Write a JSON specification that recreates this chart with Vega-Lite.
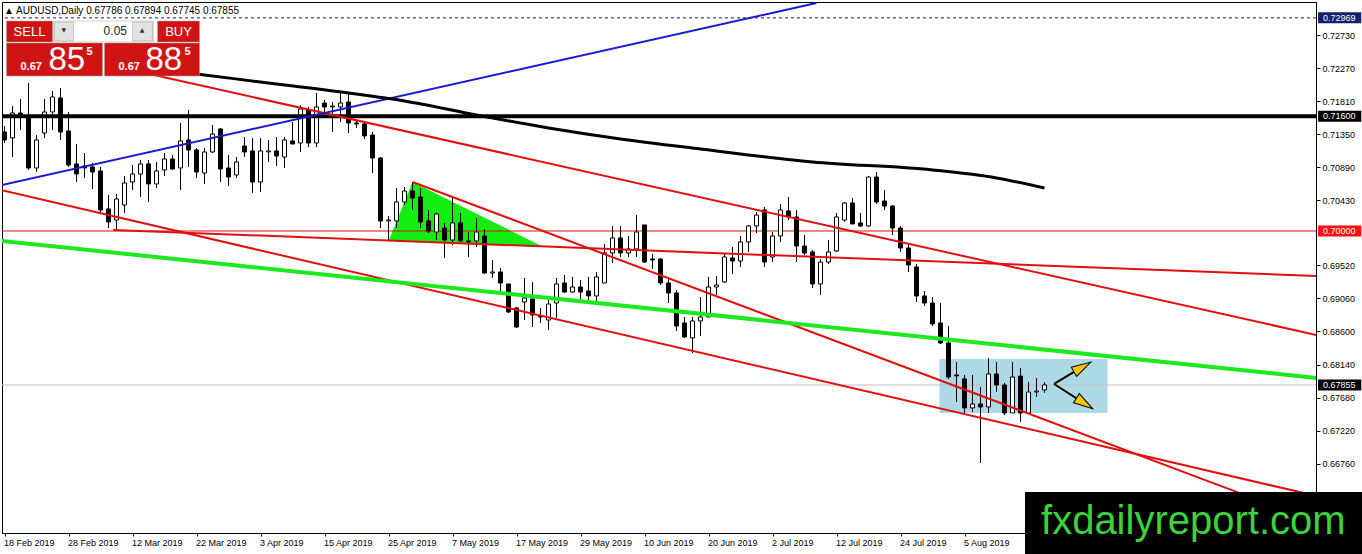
{
  "$schema": "https://vega.github.io/schema/vega-lite/v6.json",
  "width": 1314,
  "height": 531,
  "autosize": {"type": "none"},
  "padding": {"left": 2, "top": 2, "right": 46, "bottom": 21},
  "background": "#ffffff",
  "title": {
    "text": "▲ AUDUSD,Daily  0.67786 0.67894 0.67745 0.67855",
    "anchor": "start",
    "offset": -14,
    "dx": 4,
    "font": "Liberation Sans",
    "fontSize": 10,
    "fontWeight": "normal",
    "color": "#000000"
  },
  "config": {
    "view": {"stroke": "#000000", "strokeWidth": 1},
    "axis": {
      "grid": false,
      "labelFont": "Liberation Sans",
      "labelFontSize": 9,
      "labelColor": "#000000",
      "tickColor": "#000000",
      "domainColor": "#000000",
      "labelFlush": false,
      "labelOverlap": false
    }
  },
  "datasets": {
    "candles": [
      {"t":0,"o":0.71379,"h":0.71463,"l":0.71226,"c":0.71268},
      {"t":1,"o":0.71296,"h":0.71741,"l":0.71031,"c":0.71644},
      {"t":2,"o":0.71644,"h":0.71839,"l":0.71407,"c":0.71616},
      {"t":3,"o":0.71588,"h":0.72062,"l":0.70850,"c":0.70878},
      {"t":4,"o":0.70878,"h":0.71337,"l":0.70822,"c":0.71268},
      {"t":5,"o":0.71365,"h":0.71839,"l":0.71296,"c":0.71658},
      {"t":6,"o":0.71658,"h":0.71950,"l":0.71407,"c":0.71867},
      {"t":7,"o":0.71853,"h":0.71992,"l":0.71268,"c":0.71379},
      {"t":8,"o":0.71393,"h":0.71658,"l":0.70892,"c":0.70920},
      {"t":9,"o":0.70934,"h":0.71212,"l":0.70683,"c":0.70794},
      {"t":10,"o":0.70906,"h":0.71087,"l":0.70739,"c":0.70878},
      {"t":11,"o":0.70892,"h":0.70947,"l":0.70585,"c":0.70822},
      {"t":12,"o":0.70836,"h":0.70892,"l":0.70251,"c":0.70293},
      {"t":13,"o":0.70307,"h":0.70502,"l":0.70042,"c":0.70126},
      {"t":14,"o":0.70153,"h":0.70516,"l":0.70014,"c":0.70446},
      {"t":15,"o":0.70362,"h":0.70766,"l":0.70251,"c":0.70669},
      {"t":16,"o":0.70683,"h":0.70920,"l":0.70571,"c":0.70794},
      {"t":17,"o":0.70794,"h":0.70989,"l":0.70474,"c":0.70934},
      {"t":18,"o":0.70934,"h":0.70989,"l":0.70404,"c":0.70655},
      {"t":19,"o":0.70655,"h":0.70961,"l":0.70599,"c":0.70836},
      {"t":20,"o":0.70850,"h":0.71087,"l":0.70766,"c":0.71003},
      {"t":21,"o":0.71003,"h":0.71059,"l":0.70850,"c":0.70864},
      {"t":22,"o":0.70878,"h":0.71505,"l":0.70571,"c":0.71254},
      {"t":23,"o":0.71268,"h":0.71686,"l":0.70892,"c":0.71129},
      {"t":24,"o":0.71129,"h":0.71156,"l":0.70739,"c":0.70822},
      {"t":25,"o":0.70808,"h":0.71156,"l":0.70655,"c":0.71101},
      {"t":26,"o":0.71101,"h":0.71477,"l":0.71087,"c":0.71351},
      {"t":27,"o":0.71421,"h":0.71435,"l":0.70683,"c":0.70864},
      {"t":28,"o":0.70878,"h":0.71059,"l":0.70627,"c":0.70752},
      {"t":29,"o":0.70780,"h":0.71031,"l":0.70739,"c":0.70961},
      {"t":30,"o":0.71184,"h":0.71310,"l":0.71031,"c":0.71101},
      {"t":31,"o":0.71115,"h":0.71296,"l":0.70530,"c":0.70683},
      {"t":32,"o":0.70683,"h":0.71296,"l":0.70543,"c":0.71115},
      {"t":33,"o":0.71101,"h":0.71268,"l":0.70961,"c":0.71115},
      {"t":34,"o":0.71115,"h":0.71310,"l":0.70906,"c":0.71045},
      {"t":35,"o":0.71031,"h":0.71310,"l":0.70878,"c":0.71268},
      {"t":36,"o":0.71254,"h":0.71519,"l":0.71212,"c":0.71212},
      {"t":37,"o":0.71226,"h":0.71755,"l":0.71101,"c":0.71700},
      {"t":38,"o":0.71686,"h":0.71728,"l":0.71170,"c":0.71226},
      {"t":39,"o":0.71226,"h":0.71923,"l":0.71170,"c":0.71728},
      {"t":40,"o":0.71783,"h":0.71825,"l":0.71644,"c":0.71728},
      {"t":41,"o":0.71728,"h":0.71797,"l":0.71379,"c":0.71741},
      {"t":42,"o":0.71728,"h":0.71923,"l":0.71519,"c":0.71783},
      {"t":43,"o":0.71797,"h":0.71936,"l":0.71365,"c":0.71505},
      {"t":44,"o":0.71505,"h":0.71533,"l":0.71435,"c":0.71491},
      {"t":45,"o":0.71491,"h":0.71519,"l":0.71282,"c":0.71324},
      {"t":46,"o":0.71337,"h":0.71379,"l":0.70808,"c":0.71017},
      {"t":47,"o":0.71017,"h":0.71031,"l":0.70042,"c":0.70140},
      {"t":48,"o":0.70140,"h":0.70209,"l":0.69875,"c":0.70153},
      {"t":49,"o":0.70140,"h":0.70599,"l":0.70042,"c":0.70404},
      {"t":50,"o":0.70404,"h":0.70613,"l":0.70362,"c":0.70557},
      {"t":51,"o":0.70557,"h":0.70683,"l":0.70293,"c":0.70460},
      {"t":52,"o":0.70474,"h":0.70599,"l":0.70042,"c":0.70126},
      {"t":53,"o":0.70140,"h":0.70293,"l":0.69972,"c":0.70000},
      {"t":54,"o":0.69986,"h":0.70251,"l":0.69875,"c":0.70237},
      {"t":55,"o":0.70042,"h":0.70112,"l":0.69624,"c":0.69875},
      {"t":56,"o":0.69875,"h":0.70460,"l":0.69805,"c":0.70112},
      {"t":57,"o":0.70112,"h":0.70251,"l":0.69847,"c":0.69861},
      {"t":58,"o":0.69861,"h":0.69986,"l":0.69638,"c":0.69847},
      {"t":59,"o":0.69861,"h":0.70181,"l":0.69777,"c":0.69986},
      {"t":60,"o":0.69931,"h":0.70028,"l":0.69401,"c":0.69415},
      {"t":61,"o":0.69415,"h":0.69596,"l":0.69346,"c":0.69429},
      {"t":62,"o":0.69429,"h":0.69485,"l":0.69150,"c":0.69276},
      {"t":63,"o":0.69262,"h":0.69262,"l":0.68858,"c":0.68872},
      {"t":64,"o":0.68928,"h":0.68942,"l":0.68649,"c":0.68663},
      {"t":65,"o":0.69011,"h":0.69346,"l":0.68760,"c":0.69067},
      {"t":66,"o":0.69053,"h":0.69290,"l":0.68663,"c":0.68830},
      {"t":67,"o":0.68816,"h":0.68928,"l":0.68719,"c":0.68802},
      {"t":68,"o":0.68760,"h":0.69039,"l":0.68621,"c":0.68983},
      {"t":69,"o":0.68997,"h":0.69346,"l":0.68788,"c":0.69262},
      {"t":70,"o":0.69276,"h":0.69387,"l":0.69137,"c":0.69150},
      {"t":71,"o":0.69150,"h":0.69359,"l":0.69137,"c":0.69220},
      {"t":72,"o":0.69220,"h":0.69318,"l":0.69039,"c":0.69150},
      {"t":73,"o":0.69164,"h":0.69359,"l":0.69011,"c":0.69095},
      {"t":74,"o":0.69095,"h":0.69429,"l":0.69011,"c":0.69359},
      {"t":75,"o":0.69276,"h":0.69819,"l":0.69276,"c":0.69694},
      {"t":76,"o":0.69694,"h":0.70070,"l":0.69554,"c":0.69903},
      {"t":77,"o":0.69903,"h":0.70070,"l":0.69638,"c":0.69694},
      {"t":78,"o":0.69694,"h":0.69931,"l":0.69638,"c":0.69749},
      {"t":79,"o":0.69749,"h":0.70223,"l":0.69638,"c":0.69986},
      {"t":80,"o":0.70084,"h":0.70084,"l":0.69554,"c":0.69568},
      {"t":81,"o":0.69610,"h":0.69680,"l":0.69471,"c":0.69596},
      {"t":82,"o":0.69610,"h":0.69624,"l":0.69248,"c":0.69276},
      {"t":83,"o":0.69276,"h":0.69359,"l":0.68997,"c":0.69137},
      {"t":84,"o":0.69137,"h":0.69178,"l":0.68607,"c":0.68677},
      {"t":85,"o":0.68719,"h":0.68802,"l":0.68510,"c":0.68524},
      {"t":86,"o":0.68510,"h":0.68802,"l":0.68301,"c":0.68747},
      {"t":87,"o":0.68747,"h":0.69081,"l":0.68538,"c":0.68802},
      {"t":88,"o":0.68802,"h":0.69359,"l":0.68802,"c":0.69220},
      {"t":89,"o":0.69220,"h":0.69373,"l":0.69109,"c":0.69248},
      {"t":90,"o":0.69290,"h":0.69680,"l":0.69276,"c":0.69638},
      {"t":91,"o":0.69624,"h":0.69777,"l":0.69401,"c":0.69582},
      {"t":92,"o":0.69582,"h":0.69931,"l":0.69499,"c":0.69847},
      {"t":93,"o":0.69847,"h":0.70084,"l":0.69708,"c":0.70070},
      {"t":94,"o":0.70070,"h":0.70265,"l":0.69972,"c":0.70223},
      {"t":95,"o":0.70293,"h":0.70335,"l":0.69499,"c":0.69568},
      {"t":96,"o":0.69638,"h":0.69986,"l":0.69568,"c":0.69931},
      {"t":97,"o":0.69931,"h":0.70376,"l":0.69847,"c":0.70293},
      {"t":98,"o":0.70279,"h":0.70474,"l":0.70153,"c":0.70195},
      {"t":99,"o":0.70195,"h":0.70293,"l":0.69568,"c":0.69791},
      {"t":100,"o":0.69791,"h":0.69944,"l":0.69666,"c":0.69694},
      {"t":101,"o":0.69708,"h":0.69736,"l":0.69206,"c":0.69262},
      {"t":102,"o":0.69262,"h":0.69610,"l":0.69109,"c":0.69568},
      {"t":103,"o":0.69568,"h":0.69875,"l":0.69541,"c":0.69708},
      {"t":104,"o":0.69722,"h":0.70251,"l":0.69708,"c":0.70195},
      {"t":105,"o":0.70153,"h":0.70404,"l":0.70126,"c":0.70390},
      {"t":106,"o":0.70390,"h":0.70460,"l":0.70098,"c":0.70098},
      {"t":107,"o":0.70112,"h":0.70251,"l":0.70056,"c":0.70070},
      {"t":108,"o":0.70070,"h":0.70766,"l":0.70056,"c":0.70752},
      {"t":109,"o":0.70752,"h":0.70822,"l":0.70376,"c":0.70404},
      {"t":110,"o":0.70418,"h":0.70571,"l":0.70293,"c":0.70348},
      {"t":111,"o":0.70348,"h":0.70362,"l":0.69944,"c":0.70042},
      {"t":112,"o":0.70042,"h":0.70070,"l":0.69708,"c":0.69763},
      {"t":113,"o":0.69763,"h":0.69833,"l":0.69429,"c":0.69527},
      {"t":114,"o":0.69499,"h":0.69541,"l":0.69011,"c":0.69095},
      {"t":115,"o":0.69095,"h":0.69164,"l":0.68955,"c":0.68997},
      {"t":116,"o":0.68997,"h":0.69081,"l":0.68677,"c":0.68705},
      {"t":117,"o":0.68719,"h":0.68997,"l":0.68426,"c":0.68440},
      {"t":118,"o":0.68440,"h":0.68677,"l":0.67939,"c":0.67966},
      {"t":119,"o":0.67994,"h":0.68175,"l":0.67618,"c":0.67980},
      {"t":120,"o":0.67939,"h":0.67994,"l":0.67465,"c":0.67535},
      {"t":121,"o":0.67535,"h":0.67994,"l":0.67479,"c":0.67590},
      {"t":122,"o":0.67590,"h":0.67827,"l":0.66768,"c":0.67549},
      {"t":123,"o":0.67549,"h":0.68231,"l":0.67465,"c":0.68008},
      {"t":124,"o":0.68008,"h":0.68175,"l":0.67757,"c":0.67855},
      {"t":125,"o":0.67855,"h":0.67883,"l":0.67437,"c":0.67465},
      {"t":126,"o":0.67465,"h":0.68175,"l":0.67465,"c":0.67966},
      {"t":127,"o":0.67980,"h":0.68092,"l":0.67340,"c":0.67465},
      {"t":128,"o":0.67465,"h":0.67897,"l":0.67451,"c":0.67757},
      {"t":129,"o":0.67757,"h":0.67953,"l":0.67688,"c":0.67770},
      {"t":130,"o":0.67786,"h":0.67894,"l":0.67745,"c":0.67855}
    ],
    "lines": [
      {"id":"blue","t":-1.25,"p":0.70616},{"id":"blue","t":101.5,"p":0.73176},
      {"id":"red1","t":17,"p":0.72215},{"id":"red1","t":164,"p":0.68551},
      {"id":"red2","t":51,"p":0.70683},{"id":"red2","t":164,"p":0.65947},
      {"id":"red3","t":-1.25,"p":0.70591},{"id":"red3","t":164,"p":0.66309},
      {"id":"red4","t":13.6,"p":0.70014},{"id":"red4","t":164,"p":0.69373},
      {"id":"green","t":-1.25,"p":0.69872},{"id":"green","t":164,"p":0.67953}
    ],
    "ma": [
      {"t":24,"p":0.72187},{"t":32,"p":0.72076},{"t":43,"p":0.71923},
      {"t":50,"p":0.71811},{"t":59,"p":0.71616},{"t":68,"p":0.71435},
      {"t":77,"p":0.71282},{"t":87,"p":0.71142},{"t":101,"p":0.70961},
      {"t":116,"p":0.70850},{"t":124,"p":0.70739},{"t":130,"p":0.70599}
    ],
    "triangle": [
      {"t":48,"p":0.69861,"p2":0.69861},
      {"t":51,"p":0.70683,"p2":0.69848},
      {"t":67.375,"p":0.69777,"p2":0.69777}
    ],
    "box": [{"t":116.875,"t2":137.875,"p":0.68217,"p2":0.67465}],
    "arrows": [
      {"dir":"up","t":131.2,"p":0.67869,"t2":134.73,"p2":0.68106},
      {"dir":"down","t":131.2,"p":0.67869,"t2":135.01,"p2":0.67597}
    ],
    "levels": [
      {"k":"dash","p":0.72969},
      {"k":"level","p":0.716},
      {"k":"red","p":0.70000},
      {"k":"bid","p":0.67855}
    ],
    "panel": [
      {"k":"red","t":0.25,"t2":6.0,"p":0.72925,"p2":0.72633},
      {"k":"red","t":0.25,"t2":12.25,"p":0.72619,"p2":0.72159},
      {"k":"red","t":19.125,"t2":24.375,"p":0.72925,"p2":0.72633},
      {"k":"red","t":12.5,"t2":24.375,"p":0.72619,"p2":0.72159},
      {"k":"field","t":6.125,"t2":18.625,"p":0.72925,"p2":0.72633},
      {"k":"btn","t":6.25,"t2":8.625,"p":0.72911,"p2":0.72647},
      {"k":"btn","t":16.0,"t2":18.5,"p":0.72911,"p2":0.72647}
    ],
    "panelText": [
      {"s":"SELL","k":"btn","t":3.125,"p":0.72717},
      {"s":"BUY","k":"btn","t":21.75,"p":0.72717},
      {"s":"0.05","k":"lot","t":15.31,"p":0.72730},
      {"s":"▼","k":"arr","t":7.4,"p":0.72800},
      {"s":"▲","k":"arr","t":17.2,"p":0.72800},
      {"s":"0.67","k":"sm","t":2.0,"p":0.72243},
      {"s":"85","k":"big","t":5.5,"p":0.72243},
      {"s":"5","k":"sup","t":10.25,"p":0.72452},
      {"s":"0.67","k":"sm","t":14.25,"p":0.72243},
      {"s":"88","k":"big","t":17.625,"p":0.72243},
      {"s":"5","k":"sup","t":22.5,"p":0.72452}
    ]
  },
  "layer": [
    {
      "data": {"name": "box"},
      "mark": {"type": "rect", "fill": "#add8e6"},
      "encoding": {
        "x": {"field": "t", "type": "quantitative", "axis": {"title": null}, "scale": {"domain": [-0.3125, 163.9375], "nice": false, "zero": false, "padding": 0}},
        "x2": {"field": "t2"},
        "y": {"field": "p", "type": "quantitative", "axis": {"orient": "right", "title": null}, "scale": {"domain": [0.65793, 0.7319], "nice": false, "zero": false, "padding": 0}},
        "y2": {"field": "p2"}
      }
    },
    {
      "data": {"name": "triangle"},
      "mark": {"type": "area", "color": "#12ee12", "opacity": 1},
      "encoding": {
        "x": {"field": "t", "type": "quantitative", "axis": {"title": null}},
        "y": {"field": "p", "type": "quantitative", "axis": {"orient": "right", "title": null}},
        "y2": {"field": "p2"}
      }
    },
    {
      "data": {"name": "levels"},
      "transform": [{"filter": "datum.k == 'dash'"}],
      "mark": {"type": "rule", "color": "#1a1a66", "strokeWidth": 1, "strokeDash": [3, 3]},
      "encoding": {"y": {"field": "p", "type": "quantitative", "axis": {"orient": "right", "title": null}}}
    },
    {
      "data": {"name": "levels"},
      "transform": [{"filter": "datum.k == 'red'"}],
      "mark": {"type": "rule", "color": "#e01010", "strokeWidth": 1},
      "encoding": {"y": {"field": "p", "type": "quantitative", "axis": {"orient": "right", "title": null}}}
    },
    {
      "data": {"name": "levels"},
      "transform": [{"filter": "datum.k == 'bid'"}],
      "mark": {"type": "rule", "color": "#c0c0c0", "strokeWidth": 1},
      "encoding": {"y": {"field": "p", "type": "quantitative", "axis": {"orient": "right", "title": null}}}
    },
    {
      "data": {"name": "candles"},
      "mark": {"type": "rule", "color": "#000000", "strokeWidth": 1},
      "encoding": {
        "x": {
          "field": "t", "type": "quantitative",
          "axis": {
            "title": null,
            "values": [0, 8, 16, 24, 32, 40, 48, 56, 64, 72, 80, 88, 96, 104, 112, 120],
            "labelExpr": "['18 Feb 2019','28 Feb 2019','12 Mar 2019','22 Mar 2019','3 Apr 2019','15 Apr 2019','25 Apr 2019','7 May 2019','17 May 2019','29 May 2019','10 Jun 2019','20 Jun 2019','2 Jul 2019','12 Jul 2019','24 Jul 2019','5 Aug 2019'][datum.value / 8]",
            "labelAlign": "left",
            "labelOffset": -1,
            "labelBaseline": "top",
            "tickSize": 3,
            "labelPadding": 2
          }
        },
        "y": {
          "field": "l", "type": "quantitative",
          "axis": {
            "orient": "right",
            "title": null,
            "values": [0.7273, 0.7227, 0.7181, 0.7135, 0.7089, 0.7043, 0.6952, 0.6906, 0.686, 0.6814, 0.6768, 0.6722, 0.6676],
            "format": ".5f",
            "tickSize": 4,
            "labelPadding": 2
          }
        },
        "y2": {"field": "h"}
      }
    },
    {
      "data": {"name": "candles"},
      "mark": {"type": "bar", "size": 4, "stroke": "#000000", "strokeWidth": 1},
      "encoding": {
        "x": {"field": "t", "type": "quantitative", "axis": {"title": null}},
        "y": {"field": "o", "type": "quantitative", "axis": {"orient": "right", "title": null}},
        "y2": {"field": "c"},
        "fill": {"condition": {"test": "datum.c >= datum.o", "value": "#ffffff"}, "value": "#000000"}
      }
    },
    {
      "data": {"name": "levels"},
      "transform": [{"filter": "datum.k == 'level'"}],
      "mark": {"type": "rule", "color": "#000000", "strokeWidth": 4},
      "encoding": {"y": {"field": "p", "type": "quantitative", "axis": {"orient": "right", "title": null}}}
    },
    {
      "data": {"name": "lines"},
      "transform": [{"filter": "indexof(datum.id, 'red') == 0"}],
      "mark": {"type": "line", "color": "#e01010", "strokeWidth": 2, "clip": true},
      "encoding": {
        "x": {"field": "t", "type": "quantitative", "axis": {"title": null}},
        "y": {"field": "p", "type": "quantitative", "axis": {"orient": "right", "title": null}},
        "detail": {"field": "id"}
      }
    },
    {
      "data": {"name": "lines"},
      "transform": [{"filter": "datum.id == 'blue'"}],
      "mark": {"type": "line", "color": "#1a1acc", "strokeWidth": 2, "clip": true},
      "encoding": {
        "x": {"field": "t", "type": "quantitative", "axis": {"title": null}},
        "y": {"field": "p", "type": "quantitative", "axis": {"orient": "right", "title": null}}
      }
    },
    {
      "data": {"name": "lines"},
      "transform": [{"filter": "datum.id == 'green'"}],
      "mark": {"type": "line", "color": "#1ee81e", "strokeWidth": 4, "clip": true},
      "encoding": {
        "x": {"field": "t", "type": "quantitative", "axis": {"title": null}},
        "y": {"field": "p", "type": "quantitative", "axis": {"orient": "right", "title": null}}
      }
    },
    {
      "data": {"name": "ma"},
      "mark": {"type": "line", "color": "#000000", "strokeWidth": 3, "interpolate": "monotone"},
      "encoding": {
        "x": {"field": "t", "type": "quantitative", "axis": {"title": null}},
        "y": {"field": "p", "type": "quantitative", "axis": {"orient": "right", "title": null}}
      }
    },
    {
      "data": {"name": "arrows"},
      "mark": {"type": "rule", "color": "#000000", "strokeWidth": 2},
      "encoding": {
        "x": {"field": "t", "type": "quantitative", "axis": {"title": null}},
        "y": {"field": "p", "type": "quantitative", "axis": {"orient": "right", "title": null}},
        "x2": {"field": "t2"},
        "y2": {"field": "p2"}
      }
    },
    {
      "data": {"name": "arrows"},
      "transform": [{"filter": "datum.dir == 'up'"}],
      "mark": {"type": "point", "shape": "M-1,-0.55L1,0L-1,0.55Z", "angle": -30, "size": 380, "filled": true, "fill": "#f5c400", "stroke": "#000000", "strokeWidth": 1, "opacity": 1},
      "encoding": {
        "x": {"field": "t2", "type": "quantitative", "axis": {"title": null}},
        "y": {"field": "p2", "type": "quantitative", "axis": {"orient": "right", "title": null}}
      }
    },
    {
      "data": {"name": "arrows"},
      "transform": [{"filter": "datum.dir == 'down'"}],
      "mark": {"type": "point", "shape": "M-1,-0.55L1,0L-1,0.55Z", "angle": 33, "size": 380, "filled": true, "fill": "#f5c400", "stroke": "#000000", "strokeWidth": 1, "opacity": 1},
      "encoding": {
        "x": {"field": "t2", "type": "quantitative", "axis": {"title": null}},
        "y": {"field": "p2", "type": "quantitative", "axis": {"orient": "right", "title": null}}
      }
    },
    {
      "data": {"name": "levels"},
      "mark": {"type": "bar", "size": 11, "orient": "horizontal"},
      "encoding": {
        "x": {"datum": 164.2, "type": "quantitative", "axis": {"title": null}},
        "x2": {"datum": 169.6},
        "y": {"field": "p", "type": "quantitative", "axis": {"orient": "right", "title": null}},
        "color": {"field": "k", "type": "nominal", "legend": null, "scale": {"domain": ["dash", "level", "red", "bid"], "range": ["#14206e", "#000000", "#ff1010", "#000000"]}}
      }
    },
    {
      "data": {"name": "levels"},
      "mark": {"type": "text", "color": "#ffffff", "font": "Liberation Sans", "fontSize": 9, "align": "center", "baseline": "middle"},
      "encoding": {
        "x": {"datum": 166.85, "type": "quantitative", "axis": {"title": null}},
        "y": {"field": "p", "type": "quantitative", "axis": {"orient": "right", "title": null}},
        "text": {"field": "p", "type": "quantitative", "format": ".5f"}
      }
    },
    {
      "data": {"name": "panel"},
      "mark": {"type": "rect", "stroke": "#a0a0a0", "strokeWidth": 0.5},
      "encoding": {
        "x": {"field": "t", "type": "quantitative", "axis": {"title": null}},
        "x2": {"field": "t2"},
        "y": {"field": "p", "type": "quantitative", "axis": {"orient": "right", "title": null}},
        "y2": {"field": "p2"},
        "fill": {"field": "k", "type": "nominal", "legend": null, "scale": {"domain": ["red", "field", "btn"], "range": ["#d01414", "#ffffff", "#e2e2e2"]}}
      }
    },
    {
      "data": {"name": "panelText"},
      "transform": [{"filter": "datum.k == 'btn'"}],
      "mark": {"type": "text", "color": "#ffffff", "font": "Liberation Sans", "fontSize": 13, "align": "center", "baseline": "alphabetic"},
      "encoding": {
        "x": {"field": "t", "type": "quantitative", "axis": {"title": null}},
        "y": {"field": "p", "type": "quantitative", "axis": {"orient": "right", "title": null}},
        "text": {"field": "s"}
      }
    },
    {
      "data": {"name": "panelText"},
      "transform": [{"filter": "datum.k == 'lot'"}],
      "mark": {"type": "text", "color": "#222222", "font": "Liberation Sans", "fontSize": 12, "align": "right", "baseline": "alphabetic"},
      "encoding": {
        "x": {"field": "t", "type": "quantitative", "axis": {"title": null}},
        "y": {"field": "p", "type": "quantitative", "axis": {"orient": "right", "title": null}},
        "text": {"field": "s"}
      }
    },
    {
      "data": {"name": "panelText"},
      "transform": [{"filter": "datum.k == 'arr'"}],
      "mark": {"type": "text", "color": "#333333", "font": "DejaVu Sans", "fontSize": 6, "align": "center", "baseline": "middle"},
      "encoding": {
        "x": {"field": "t", "type": "quantitative", "axis": {"title": null}},
        "y": {"field": "p", "type": "quantitative", "axis": {"orient": "right", "title": null}},
        "text": {"field": "s"}
      }
    },
    {
      "data": {"name": "panelText"},
      "transform": [{"filter": "datum.k == 'sm'"}],
      "mark": {"type": "text", "color": "#ffffff", "font": "Liberation Sans", "fontSize": 11, "fontWeight": "bold", "align": "left", "baseline": "alphabetic"},
      "encoding": {
        "x": {"field": "t", "type": "quantitative", "axis": {"title": null}},
        "y": {"field": "p", "type": "quantitative", "axis": {"orient": "right", "title": null}},
        "text": {"field": "s"}
      }
    },
    {
      "data": {"name": "panelText"},
      "transform": [{"filter": "datum.k == 'big'"}],
      "mark": {"type": "text", "color": "#ffffff", "font": "Liberation Sans", "fontSize": 33, "align": "left", "baseline": "alphabetic"},
      "encoding": {
        "x": {"field": "t", "type": "quantitative", "axis": {"title": null}},
        "y": {"field": "p", "type": "quantitative", "axis": {"orient": "right", "title": null}},
        "text": {"field": "s"}
      }
    },
    {
      "data": {"name": "panelText"},
      "transform": [{"filter": "datum.k == 'sup'"}],
      "mark": {"type": "text", "color": "#ffffff", "font": "Liberation Sans", "fontSize": 11, "fontWeight": "bold", "align": "left", "baseline": "alphabetic"},
      "encoding": {
        "x": {"field": "t", "type": "quantitative", "axis": {"title": null}},
        "y": {"field": "p", "type": "quantitative", "axis": {"orient": "right", "title": null}},
        "text": {"field": "s"}
      }
    },
    {
      "data": {"values": [{"s": "fxdailyreport.com"}]},
      "mark": {"type": "rect", "fill": "#000000"},
      "encoding": {
        "x": {"datum": 127.56, "type": "quantitative", "axis": {"title": null}},
        "x2": {"datum": 170.5},
        "y": {"datum": 0.66364, "type": "quantitative", "axis": {"orient": "right", "title": null}},
        "y2": {"datum": 0.654}
      }
    },
    {
      "data": {"values": [{"s": "fxdailyreport.com"}]},
      "mark": {"type": "text", "color": "#3ad43a", "font": "Liberation Sans", "fontSize": 40, "align": "center", "baseline": "middle"},
      "encoding": {
        "x": {"datum": 148.6, "type": "quantitative", "axis": {"title": null}},
        "y": {"datum": 0.65947, "type": "quantitative", "axis": {"orient": "right", "title": null}},
        "text": {"field": "s"}
      }
    }
  ]
}
